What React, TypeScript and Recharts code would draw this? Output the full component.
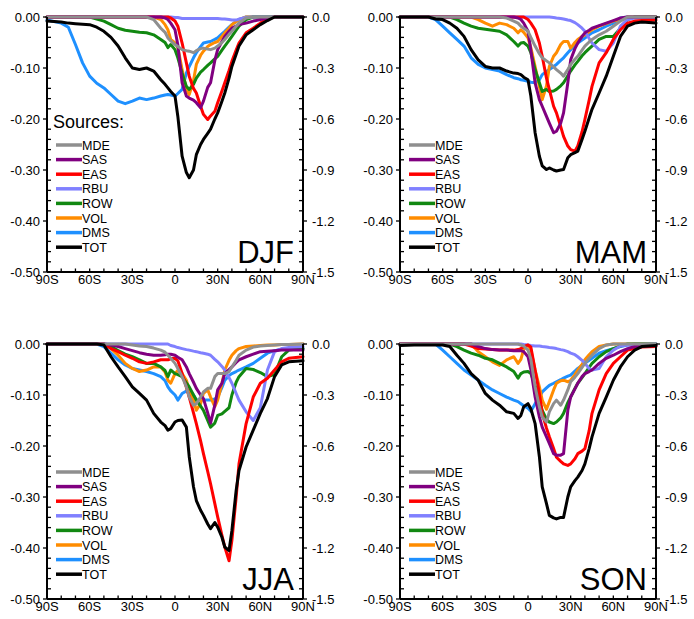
import { LineChart, Line, XAxis, YAxis } from 'recharts';

const FONT = '"Liberation Sans", Arial, Helvetica, sans-serif';

// latitude grid (deg, S negative)
const lats = [-90, -80, -75, -70, -65, -60, -55, -50, -45, -40, -35, -30, -25, -20, -15, -10, -7, -5, -3, 0, 2, 5, 8, 10, 13, 15, 18, 20, 23, 25, 28, 30, 33, 35, 38, 40, 43, 45, 50, 55, 60, 65, 70, 75, 80, 90];

const latTicks = [-90, -60, -30, 0, 30, 60, 90];
const latLabels = ['90S', '60S', '30S', '0', '30N', '60N', '90N'];
const latMinor = [-90, -80, -70, -60, -50, -40, -30, -20, -10, 0, 10, 20, 30, 40, 50, 60, 70, 80, 90];

const sources = ['MDE', 'SAS', 'EAS', 'RBU', 'ROW', 'VOL', 'DMS', 'TOT'];
const colors = ['#8f8f8f', '#800080', '#ff0000', '#8080ff', '#118811', '#ff8c00', '#1e90ff', '#000000'];
// drawing order (back to front)
const drawOrder = ['DMS', 'VOL', 'ROW', 'RBU', 'EAS', 'SAS', 'MDE', 'TOT'];

// ---- DJF (left axis units; TOT on right axis units)
const djfMDE = [0, 0, 0, 0, 0, 0, 0, 0, 0, 0, 0, 0, 0, 0, -0.005, -0.022, -0.03, -0.041, -0.047, -0.054, -0.058, -0.064, -0.066, -0.067, -0.07, -0.066, -0.062, -0.061, -0.063, -0.064, -0.061, -0.057, -0.05, -0.044, -0.034, -0.028, -0.018, -0.012, -0.002, 0, 0, 0, 0, 0, 0, 0];
const djfSAS = [0, 0, 0, 0, 0, 0, 0, 0, 0, 0, 0, 0, 0, 0, 0, 0, -0.002, -0.005, -0.012, -0.025, -0.055, -0.129, -0.155, -0.159, -0.163, -0.168, -0.178, -0.165, -0.138, -0.129, -0.085, -0.064, -0.048, -0.038, -0.028, -0.022, -0.018, -0.015, -0.012, -0.008, -0.005, -0.002, 0, 0, 0, 0];
const djfEAS = [0, 0, 0, 0, 0, 0, 0, 0, 0, 0, 0, 0, 0, 0, 0, 0, 0, 0, -0.002, -0.008, -0.018, -0.051, -0.09, -0.116, -0.14, -0.149, -0.175, -0.191, -0.201, -0.194, -0.185, -0.168, -0.145, -0.129, -0.105, -0.087, -0.065, -0.051, -0.031, -0.022, -0.012, -0.004, 0, 0, 0, 0];
const djfRBU = [0, 0, 0, 0, 0, 0, 0, 0, 0, 0, 0, 0, 0, 0, 0, 0, 0, 0, 0, -0.001, -0.001, -0.003, -0.003, -0.003, -0.003, -0.003, -0.003, -0.003, -0.003, -0.003, -0.003, -0.003, -0.004, -0.004, -0.005, -0.006, -0.006, -0.004, -0.001, 0, 0, 0, 0, 0, 0, 0];
const djfROW = [0, 0, 0, 0, 0, 0, -0.004, -0.008, -0.015, -0.022, -0.026, -0.028, -0.03, -0.031, -0.035, -0.044, -0.05, -0.06, -0.054, -0.064, -0.08, -0.11, -0.136, -0.142, -0.132, -0.12, -0.108, -0.103, -0.095, -0.09, -0.082, -0.077, -0.065, -0.057, -0.046, -0.038, -0.026, -0.018, -0.005, 0, 0, 0, 0, 0, 0, 0];
const djfVOL = [0, 0, 0, 0, 0, 0, 0, 0, 0, 0, 0, 0, 0, 0, 0, -0.005, -0.015, -0.025, -0.044, -0.051, -0.06, -0.103, -0.142, -0.152, -0.125, -0.093, -0.075, -0.067, -0.058, -0.054, -0.05, -0.048, -0.038, -0.031, -0.022, -0.015, -0.009, -0.005, 0, 0, 0, 0, 0, 0, 0, 0];
const djfDMS = [-0.006, -0.012, -0.02, -0.054, -0.09, -0.116, -0.13, -0.139, -0.152, -0.165, -0.17, -0.165, -0.159, -0.162, -0.159, -0.155, -0.153, -0.152, -0.153, -0.155, -0.15, -0.142, -0.11, -0.097, -0.08, -0.07, -0.058, -0.051, -0.049, -0.048, -0.044, -0.041, -0.033, -0.028, -0.02, -0.015, -0.009, -0.005, 0, 0, 0, 0, 0, 0, 0, 0];
const djfTOT = [-0.024, -0.03, -0.036, -0.039, -0.042, -0.045, -0.06, -0.084, -0.12, -0.171, -0.24, -0.3, -0.309, -0.3, -0.318, -0.369, -0.396, -0.417, -0.438, -0.465, -0.585, -0.819, -0.915, -0.945, -0.9, -0.81, -0.75, -0.72, -0.684, -0.66, -0.6, -0.564, -0.495, -0.447, -0.36, -0.291, -0.219, -0.171, -0.105, -0.075, -0.045, -0.021, 0, 0, 0, 0];

// ---- MAM
const mamMDE = [0, 0, 0, 0, 0, 0, 0, 0, 0, 0, 0, 0, 0, 0, -0.002, -0.008, -0.012, -0.018, -0.022, -0.028, -0.04, -0.057, -0.072, -0.08, -0.086, -0.09, -0.098, -0.103, -0.11, -0.116, -0.103, -0.093, -0.083, -0.077, -0.065, -0.057, -0.049, -0.044, -0.035, -0.028, -0.018, -0.008, 0, 0, 0, 0];
const mamSAS = [0, 0, 0, 0, 0, 0, 0, 0, 0, 0, 0, 0, 0, 0, 0, 0, -0.002, -0.005, -0.012, -0.028, -0.065, -0.129, -0.162, -0.175, -0.195, -0.208, -0.227, -0.224, -0.208, -0.188, -0.129, -0.084, -0.062, -0.051, -0.038, -0.031, -0.026, -0.022, -0.017, -0.012, -0.007, -0.002, 0, 0, 0, 0];
const mamEAS = [0, 0, 0, 0, 0, 0, 0, 0, 0, 0, 0, 0, 0, 0, 0, 0, 0, 0, 0, -0.005, -0.012, -0.025, -0.051, -0.077, -0.12, -0.142, -0.175, -0.188, -0.215, -0.234, -0.253, -0.26, -0.263, -0.253, -0.225, -0.201, -0.163, -0.136, -0.09, -0.07, -0.044, -0.025, -0.012, -0.008, -0.007, -0.006];
const mamRBU = [0, 0, 0, 0, 0, 0, 0, 0, 0, 0, 0, 0, 0, 0, 0, 0, 0, 0, 0, 0, 0, 0, 0, 0, 0, 0, -0.001, -0.002, -0.003, -0.004, -0.006, -0.007, -0.011, -0.015, -0.022, -0.028, -0.042, -0.051, -0.064, -0.067, -0.051, -0.018, -0.005, -0.002, -0.002, -0.002];
const mamROW = [0, 0, 0, 0, 0, 0, 0, -0.005, -0.012, -0.018, -0.022, -0.024, -0.026, -0.028, -0.035, -0.048, -0.057, -0.051, -0.05, -0.057, -0.07, -0.103, -0.129, -0.146, -0.142, -0.146, -0.145, -0.142, -0.135, -0.129, -0.115, -0.106, -0.094, -0.087, -0.076, -0.07, -0.062, -0.057, -0.044, -0.038, -0.038, -0.022, -0.005, 0, 0, 0];
const mamVOL = [0, 0, 0, 0, 0, 0, 0, 0, 0, 0, -0.005, -0.012, -0.018, -0.012, -0.015, -0.022, -0.031, -0.025, -0.03, -0.041, -0.06, -0.097, -0.136, -0.162, -0.135, -0.097, -0.077, -0.07, -0.054, -0.048, -0.048, -0.061, -0.05, -0.044, -0.038, -0.035, -0.029, -0.025, -0.018, -0.013, -0.008, -0.005, 0, 0, 0, 0];
const mamDMS = [0, 0, 0, 0, -0.005, -0.018, -0.031, -0.044, -0.057, -0.08, -0.093, -0.1, -0.103, -0.106, -0.113, -0.119, -0.121, -0.123, -0.124, -0.126, -0.128, -0.129, -0.123, -0.113, -0.107, -0.103, -0.097, -0.093, -0.085, -0.08, -0.07, -0.064, -0.056, -0.051, -0.045, -0.041, -0.035, -0.031, -0.025, -0.018, -0.012, -0.002, 0, 0, 0, 0];
const mamTOT = [0, 0, 0, 0, -0.012, -0.015, -0.036, -0.066, -0.114, -0.192, -0.252, -0.291, -0.3, -0.3, -0.318, -0.33, -0.333, -0.339, -0.354, -0.369, -0.465, -0.681, -0.819, -0.876, -0.897, -0.888, -0.9, -0.906, -0.9, -0.897, -0.828, -0.81, -0.798, -0.789, -0.72, -0.672, -0.594, -0.543, -0.447, -0.348, -0.231, -0.114, -0.054, -0.036, -0.03, -0.036];

// ---- JJA
const jjaMDE = [0, 0, 0, 0, 0, 0, 0, 0, 0, 0, 0, -0.002, -0.004, -0.005, -0.008, -0.012, -0.016, -0.022, -0.028, -0.038, -0.048, -0.064, -0.084, -0.104, -0.12, -0.117, -0.104, -0.094, -0.087, -0.087, -0.064, -0.058, -0.058, -0.058, -0.054, -0.045, -0.032, -0.022, -0.012, -0.006, -0.004, -0.003, -0.002, -0.001, -0.001, 0];
const jjaSAS = [0, 0, 0, 0, 0, 0, 0, 0, -0.002, -0.005, -0.009, -0.013, -0.017, -0.02, -0.022, -0.022, -0.021, -0.02, -0.02, -0.022, -0.026, -0.031, -0.045, -0.058, -0.075, -0.087, -0.1, -0.107, -0.135, -0.155, -0.12, -0.09, -0.077, -0.058, -0.05, -0.045, -0.036, -0.031, -0.025, -0.02, -0.015, -0.014, -0.013, -0.012, -0.012, -0.012];
const jjaEAS = [0, 0, 0, 0, 0, 0, 0, 0, -0.009, -0.015, -0.022, -0.028, -0.035, -0.038, -0.035, -0.031, -0.031, -0.031, -0.029, -0.028, -0.033, -0.058, -0.085, -0.104, -0.135, -0.156, -0.19, -0.215, -0.25, -0.274, -0.313, -0.339, -0.375, -0.398, -0.425, -0.385, -0.3, -0.235, -0.156, -0.104, -0.077, -0.067, -0.051, -0.035, -0.028, -0.025];
const jjaRBU = [0, 0, 0, 0, 0, 0, 0, 0, 0, 0, 0, 0, 0, 0, 0, 0, 0, 0, -0.003, -0.005, -0.007, -0.009, -0.011, -0.012, -0.014, -0.015, -0.017, -0.018, -0.02, -0.022, -0.03, -0.035, -0.044, -0.051, -0.066, -0.077, -0.097, -0.11, -0.133, -0.15, -0.125, -0.051, -0.015, -0.009, -0.007, -0.005];
const jjaROW = [0, 0, 0, 0, 0, 0, 0, 0, -0.005, -0.013, -0.02, -0.025, -0.031, -0.038, -0.038, -0.045, -0.052, -0.064, -0.051, -0.058, -0.06, -0.064, -0.076, -0.084, -0.1, -0.11, -0.122, -0.13, -0.15, -0.163, -0.155, -0.14, -0.137, -0.132, -0.125, -0.1, -0.075, -0.064, -0.048, -0.05, -0.056, -0.064, -0.06, -0.025, -0.012, -0.009];
const jjaVOL = [0, 0, 0, 0, 0, 0, 0, 0, -0.009, -0.022, -0.038, -0.048, -0.054, -0.051, -0.045, -0.045, -0.055, -0.071, -0.077, -0.058, -0.052, -0.058, -0.071, -0.09, -0.11, -0.13, -0.117, -0.097, -0.09, -0.104, -0.123, -0.11, -0.077, -0.051, -0.032, -0.022, -0.013, -0.009, -0.005, -0.004, -0.003, -0.002, -0.002, -0.001, -0.001, 0];
const jjaDMS = [0, 0, 0, 0, 0, 0, 0, -0.005, -0.018, -0.031, -0.041, -0.048, -0.051, -0.054, -0.058, -0.064, -0.072, -0.084, -0.092, -0.1, -0.11, -0.097, -0.092, -0.09, -0.1, -0.11, -0.11, -0.11, -0.11, -0.11, -0.108, -0.104, -0.085, -0.071, -0.062, -0.058, -0.054, -0.051, -0.045, -0.038, -0.028, -0.018, -0.013, -0.01, -0.009, -0.009];
const jjaTOT = [0, 0, 0, 0, 0, 0, 0, -0.006, -0.075, -0.135, -0.192, -0.252, -0.291, -0.33, -0.408, -0.459, -0.48, -0.507, -0.498, -0.459, -0.45, -0.447, -0.489, -0.663, -0.84, -0.921, -0.978, -1.008, -1.059, -1.086, -1.05, -1.077, -1.137, -1.194, -1.215, -1.098, -0.861, -0.744, -0.606, -0.507, -0.408, -0.321, -0.192, -0.123, -0.105, -0.099];

// ---- SON
const sonMDE = [0, 0, 0, 0, 0, 0, 0, 0, 0, 0, 0, 0, 0, 0, 0, 0, 0, -0.002, -0.004, -0.012, -0.03, -0.084, -0.123, -0.143, -0.153, -0.133, -0.117, -0.11, -0.12, -0.11, -0.09, -0.074, -0.065, -0.058, -0.046, -0.038, -0.028, -0.022, -0.009, -0.002, 0, 0, 0, 0, 0, 0];
const sonSAS = [0, 0, 0, 0, 0, 0, 0, 0, 0, 0, -0.005, -0.009, -0.011, -0.012, -0.012, -0.013, -0.013, -0.013, -0.015, -0.025, -0.05, -0.104, -0.143, -0.163, -0.182, -0.195, -0.215, -0.218, -0.218, -0.215, -0.13, -0.104, -0.088, -0.077, -0.064, -0.058, -0.054, -0.051, -0.038, -0.028, -0.022, -0.015, -0.009, -0.005, -0.004, -0.003];
const sonEAS = [0, 0, 0, 0, 0, 0, 0, 0, 0, -0.004, -0.009, -0.01, -0.011, -0.012, -0.012, -0.012, -0.011, -0.009, -0.005, -0.002, -0.006, -0.051, -0.097, -0.136, -0.165, -0.182, -0.205, -0.222, -0.23, -0.235, -0.238, -0.235, -0.225, -0.215, -0.21, -0.205, -0.17, -0.136, -0.09, -0.058, -0.038, -0.025, -0.012, -0.009, -0.006, -0.005];
const sonRBU = [0, 0, 0, 0, 0, 0, 0, 0, 0, 0, 0, 0, 0, 0, 0, 0, 0, 0, -0.001, -0.002, -0.003, -0.004, -0.004, -0.005, -0.006, -0.007, -0.008, -0.009, -0.011, -0.012, -0.015, -0.018, -0.021, -0.025, -0.032, -0.038, -0.048, -0.051, -0.048, -0.025, -0.012, -0.004, -0.002, -0.001, -0.001, 0];
const sonROW = [0, 0, 0, 0, 0, 0, 0, -0.005, -0.012, -0.018, -0.022, -0.028, -0.031, -0.038, -0.045, -0.054, -0.067, -0.058, -0.055, -0.054, -0.058, -0.081, -0.11, -0.13, -0.148, -0.153, -0.156, -0.153, -0.145, -0.136, -0.115, -0.104, -0.087, -0.077, -0.066, -0.058, -0.046, -0.038, -0.025, -0.015, -0.009, -0.004, 0, 0, 0, 0];
const sonVOL = [0, 0, 0, 0, 0, 0, 0, 0, 0, 0, -0.015, -0.025, -0.035, -0.042, -0.031, -0.025, -0.038, -0.03, -0.01, -0.002, -0.012, -0.051, -0.084, -0.11, -0.128, -0.113, -0.09, -0.077, -0.072, -0.071, -0.074, -0.071, -0.06, -0.051, -0.04, -0.031, -0.021, -0.015, -0.005, -0.002, 0, 0, 0, 0, 0, 0];
const sonDMS = [0, 0, 0, 0, 0, -0.012, -0.025, -0.038, -0.051, -0.061, -0.071, -0.081, -0.09, -0.097, -0.104, -0.11, -0.113, -0.117, -0.121, -0.126, -0.132, -0.117, -0.104, -0.094, -0.086, -0.081, -0.077, -0.074, -0.07, -0.067, -0.063, -0.061, -0.053, -0.048, -0.042, -0.038, -0.032, -0.028, -0.018, -0.013, -0.009, -0.005, -0.002, 0, 0, 0];
const sonTOT = [-0.009, -0.006, -0.006, -0.006, -0.006, -0.006, -0.015, -0.066, -0.114, -0.174, -0.213, -0.291, -0.33, -0.36, -0.399, -0.408, -0.438, -0.42, -0.369, -0.351, -0.381, -0.468, -0.663, -0.84, -0.939, -1.008, -1.023, -1.029, -1.02, -1.02, -0.9, -0.84, -0.804, -0.783, -0.744, -0.705, -0.615, -0.546, -0.408, -0.312, -0.213, -0.135, -0.075, -0.036, -0.015, -0.009];

const leftTicks = Array.from({ length: 26 }, (_, i) => -i * 0.02);
const rightTicks = Array.from({ length: 26 }, (_, i) => -i * 0.06);

const buildRows = (cols: number[][]) =>
  lats.map((lat, i) => {
    const row: Record<string, number> = { lat };
    sources.forEach((s, k) => { row[s] = cols[k][i]; });
    return row;
  });

const panels = [
  { name: 'DJF', left: 0, top: 0, title: true, rows: buildRows([djfMDE, djfSAS, djfEAS, djfRBU, djfROW, djfVOL, djfDMS, djfTOT]) },
  { name: 'MAM', left: 353, top: 0, title: false, rows: buildRows([mamMDE, mamSAS, mamEAS, mamRBU, mamROW, mamVOL, mamDMS, mamTOT]) },
  { name: 'JJA', left: 0, top: 327, title: false, rows: buildRows([jjaMDE, jjaSAS, jjaEAS, jjaRBU, jjaROW, jjaVOL, jjaDMS, jjaTOT]) },
  { name: 'SON', left: 353, top: 327, title: false, rows: buildRows([sonMDE, sonSAS, sonEAS, sonRBU, sonROW, sonVOL, sonDMS, sonTOT]) },
];

const CW = 347;
const CH = 292;
const PL = 47;
const PT = 17;
const PW = 256;
const PH = 255;

const isStep = (v: number, step: number) => Math.abs(v / step - Math.round(v / step)) < 1e-6;

const LeftTick = (p: any) => {
  const v = p.payload.value;
  const major = isStep(v, 0.1);
  return (
    <g>
      <line x1={p.x} x2={major ? p.x - 4 : p.x + 4} y1={p.y} y2={p.y} stroke="#000" strokeWidth={1.3} />
      {major && (
        <text x={p.x - 7} y={p.y} dy={4.5} textAnchor="end" fontSize={13} fontFamily={FONT} fill="#000">
          {v.toFixed(2)}
        </text>
      )}
    </g>
  );
};

const RightTick = (p: any) => {
  const v = p.payload.value;
  const major = isStep(v, 0.3);
  return (
    <g>
      <line x1={p.x} x2={major ? p.x + 4 : p.x - 4} y1={p.y} y2={p.y} stroke="#000" strokeWidth={1.3} />
      {major && (
        <text x={p.x + 9} y={p.y} dy={4.5} textAnchor="start" fontSize={13} fontFamily={FONT} fill="#000">
          {v.toFixed(1)}
        </text>
      )}
    </g>
  );
};

const BottomTick = (p: any) => {
  const i = latTicks.indexOf(p.payload.value);
  return (
    <g>
      <line x1={p.x} x2={p.x} y1={p.y} y2={p.y - 3.5} stroke="#000" strokeWidth={1.3} />
      {i >= 0 && (
        <text x={p.x} y={p.y + 12} textAnchor="middle" fontSize={13} fontFamily={FONT} fill="#000">
          {latLabels[i]}
        </text>
      )}
    </g>
  );
};

const TopTick = (p: any) => (
  <line x1={p.x} x2={p.x} y1={p.y} y2={p.y + 3.5} stroke="#000" strokeWidth={1.3} />
);

const Panel = ({ panel }: { panel: (typeof panels)[number] }) => {
  const legendY = PT + 128;
  const lx = PL + 9;
  return (
    <div style={{ position: 'absolute', left: panel.left, top: panel.top, width: CW, height: CH }}>
      <LineChart width={CW} height={CH} data={panel.rows} margin={{ top: PT, right: 0, bottom: 0, left: 0 }}>
        <XAxis dataKey="lat" type="number" domain={[-90, 90]} ticks={latMinor} interval={0}
          height={20} tickSize={0} tickMargin={0} tickLine={false}
          axisLine={{ stroke: '#000', strokeWidth: 2 }} tick={<BottomTick />} />
        <XAxis xAxisId="top" orientation="top" dataKey="lat" type="number" domain={[-90, 90]} ticks={latMinor}
          interval={0} height={0} tickSize={0} tickMargin={0} tickLine={false}
          axisLine={{ stroke: '#000', strokeWidth: 2 }} tick={<TopTick />} />
        <YAxis yAxisId="l" type="number" domain={[-0.5, 0]} ticks={leftTicks} interval={0} width={PL}
          tickSize={0} tickMargin={0} tickLine={false}
          axisLine={{ stroke: '#000', strokeWidth: 2 }} tick={<LeftTick />} />
        <YAxis yAxisId="r" orientation="right" type="number" domain={[-1.5, 0]} ticks={rightTicks} interval={0}
          width={CW - PL - PW} tickSize={0} tickMargin={0} tickLine={false}
          axisLine={{ stroke: '#000', strokeWidth: 2 }} tick={<RightTick />} />
        {drawOrder.map((s) => (
          <Line key={s} yAxisId={s === 'TOT' ? 'r' : 'l'} dataKey={s} type="linear"
            stroke={colors[sources.indexOf(s)]}
            strokeWidth={3} dot={false} activeDot={false} isAnimationActive={false}
            strokeLinejoin="round" strokeLinecap="round" />
        ))}
      </LineChart>
      <svg width={CW} height={CH} style={{ position: 'absolute', left: 0, top: 0, pointerEvents: 'none' }}>
        {panel.title && (
          <text x={PL + 6} y={PT + 111} fontSize={18} fontFamily={FONT} fill="#000">Sources:</text>
        )}
        {sources.map((s, k) => (
          <g key={s}>
            <line x1={lx} x2={lx + 26} y1={legendY + k * 14.6} y2={legendY + k * 14.6}
              stroke={colors[k]} strokeWidth={3.5} />
            <text x={lx + 26} y={legendY + k * 14.6 + 4.5} fontSize={12.5} fontFamily={FONT} fill="#000">{s}</text>
          </g>
        ))}
        <text x={PL + PW - 9} y={PT + PH - 9} textAnchor="end" fontSize={31} fontFamily={FONT} fill="#000">
          {panel.name}
        </text>
      </svg>
    </div>
  );
};

export default function App() {
  return (
    <div style={{ position: 'absolute', left: 0, top: 0, width: 694, height: 619, overflow: 'hidden', background: '#fff', fontFamily: FONT }}>
      {panels.map((p) => <Panel key={p.name} panel={p} />)}
    </div>
  );
}
